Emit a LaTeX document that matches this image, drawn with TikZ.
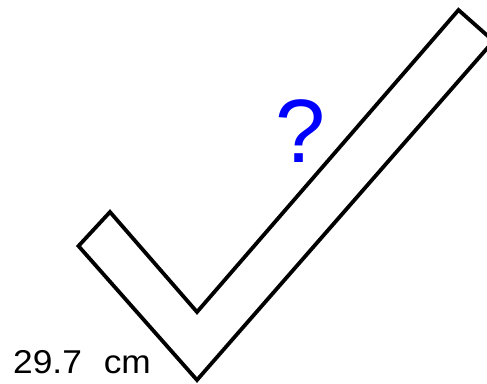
\documentclass[tikz,border=0pt]{standalone}
\usepackage{fontspec}
\setmainfont{Liberation Sans}
\usetikzlibrary{positioning}

\begin{document}
\begin{tikzpicture}[x=1pt,y=-1pt,
    tick/.style={draw=black, line width=3.8pt, line join=miter},
    dimtext/.style={font=\fontsize{33}{33}\selectfont, inner sep=0pt, anchor=base west},
    quest/.style={font=\fontsize{90}{90}\selectfont, text=blue, inner sep=0pt, anchor=base}]
\useasboundingbox (0,0) rectangle (487,383);
\clip (0,0) rectangle (487,383);
% corners of the tick
\coordinate (L) at (78.5,246);
\coordinate (T) at (110,212);
\coordinate (I) at (197,312);
\coordinate (R1) at (458.5,10);
\coordinate (R2) at (493.5,41);
\coordinate (B) at (197,380);
%
\draw[tick] (L) -- (T) -- (I) -- (R1) -- (R2) -- (B) -- cycle;
\node[quest] (q) at (301,162) {?};
\node[dimtext] (len) at (13,373.5) {\scalebox{1.07}[1]{29.7\hspace{0.62em}cm}};
\end{tikzpicture}
\end{document}
